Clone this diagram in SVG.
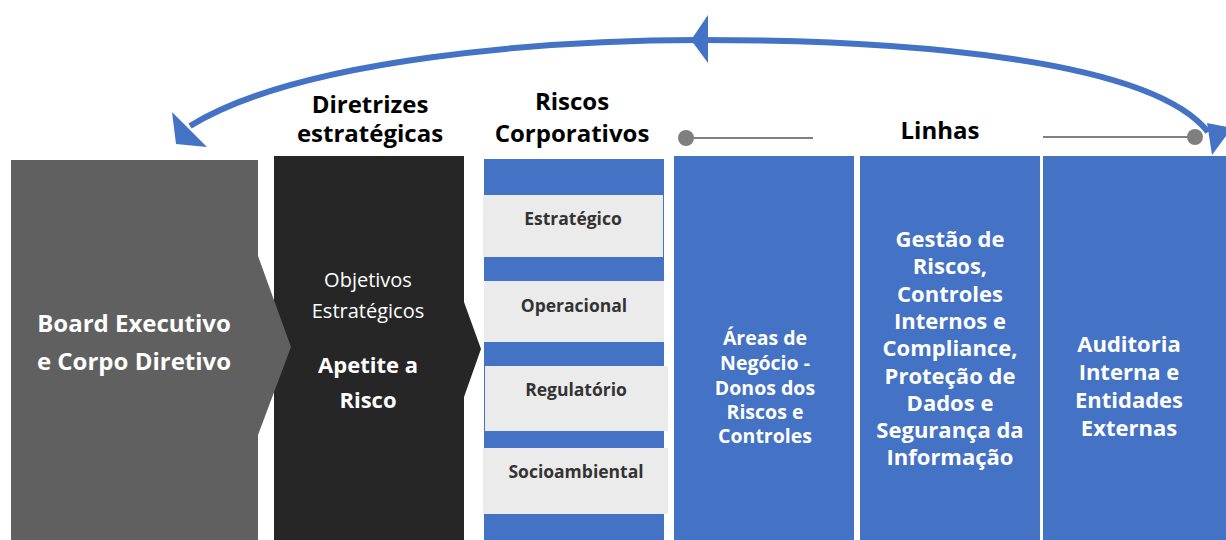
<svg xmlns="http://www.w3.org/2000/svg" width="1226" height="540" viewBox="0 0 1226 540">
<style>
.hdr{font-family:"Open Sans","Noto Sans","Liberation Sans",sans-serif;font-weight:700;font-size:24px;fill:#000;text-anchor:middle}
.wb{font-family:"Open Sans","Noto Sans","Liberation Sans",sans-serif;font-weight:700;fill:#fff;text-anchor:middle}
.wr{font-family:"Open Sans","Noto Sans","Liberation Sans",sans-serif;font-weight:400;fill:#fff;text-anchor:middle}
.rk{font-family:"Open Sans","Noto Sans","Liberation Sans",sans-serif;font-weight:700;font-size:17.5px;fill:#333;text-anchor:middle}
.blue{fill:#4472C4}
.gbox{fill:#EBEBEB}
.tl{stroke:#808080;stroke-width:2;fill:none}
.dot{fill:#7F7F7F}
</style>
<rect width="1226" height="540" fill="#fff"/>

<g id="headers">
<text class="hdr" x="370" y="113">Diretrizes</text>
<text class="hdr" x="370" y="142">estratégicas</text>
<text class="hdr" x="572" y="110">Riscos</text>
<text class="hdr" x="572" y="142">Corporativos</text>
<text class="hdr" x="940" y="139">Linhas</text>
</g>

<g id="diretrizes">
<polygon points="274,156 464,156 464,302 481,349 464,397 464,540 274,540" fill="#262626"/>
<text class="wr" x="368" y="287" font-size="20">Objetivos</text>
<text class="wr" x="368" y="318" font-size="20">Estratégicos</text>
<text class="wb" x="368" y="373" font-size="22">Apetite a</text>
<text class="wb" x="368" y="408" font-size="22">Risco</text>
</g>

<g id="board">
<polygon points="11,160 258,160 258,256 291,347 258,435 258,540 11,540" fill="#606060"/>
<text class="wb" x="134" y="332" font-size="24">Board Executivo</text>
<text class="wb" x="134" y="370" font-size="24">e Corpo Diretivo</text>
</g>

<g id="riscos">
<rect class="blue" x="484" y="159" width="180" height="381"/>
<rect class="gbox" x="483" y="195" width="180" height="62"/>
<rect class="gbox" x="484" y="281" width="180" height="61"/>
<rect class="gbox" x="485" y="366" width="183" height="65"/>
<rect class="gbox" x="483" y="448" width="185" height="66"/>
<text class="rk" x="573" y="225">Estratégico</text>
<text class="rk" x="574" y="312">Operacional</text>
<text class="rk" x="576" y="396">Regulatório</text>
<text class="rk" x="576" y="478">Socioambiental</text>
</g>

<g id="linha1">
<rect class="blue" x="674" y="156" width="180" height="384"/>
<text class="wb" font-size="19.5" x="765" y="345">Áreas de</text>
<text class="wb" font-size="19.5" x="765" y="370">Negócio -</text>
<text class="wb" font-size="19.5" x="765" y="395">Donos dos</text>
<text class="wb" font-size="19.5" x="765" y="419">Riscos e</text>
<text class="wb" font-size="19.5" x="765" y="443">Controles</text>
</g>

<g id="linha2">
<rect class="blue" x="860" y="156" width="180" height="384"/>
<text class="wb" font-size="22" x="950" y="247">Gestão de</text>
<text class="wb" font-size="22" x="950" y="274">Riscos,</text>
<text class="wb" font-size="22" x="950" y="302">Controles</text>
<text class="wb" font-size="22" x="950" y="329">Internos e</text>
<text class="wb" font-size="22" x="950" y="356">Compliance,</text>
<text class="wb" font-size="22" x="950" y="384">Proteção de</text>
<text class="wb" font-size="22" x="950" y="411">Dados e</text>
<text class="wb" font-size="22" x="950" y="438">Segurança da</text>
<text class="wb" font-size="22" x="950" y="465">Informação</text>
</g>

<g id="linha3">
<rect class="blue" x="1043" y="156" width="183" height="384"/>
<text class="wb" font-size="22" x="1129" y="352">Auditoria</text>
<text class="wb" font-size="22" x="1129" y="380">Interna e</text>
<text class="wb" font-size="22" x="1129" y="408">Entidades</text>
<text class="wb" font-size="22" x="1129" y="436">Externas</text>
</g>

<g id="connectors">
<line class="tl" x1="686" y1="138" x2="813" y2="138"/>
<circle class="dot" cx="686" cy="138" r="8"/>
<line class="tl" x1="1043" y1="137" x2="1195" y2="137"/>
<circle class="dot" cx="1195" cy="137" r="8"/>
<path d="M 190,126 C 300,58 550,40 700,40 C 900,40 1150,58 1208,132" fill="none" stroke="#4472C4" stroke-width="6"/>
<polygon class="blue" points="172,112 176,144 207,147"/>
<polygon class="blue" points="691,40 708,15 708,63"/>
<polygon class="blue" points="1207,123 1232,128 1212,155"/>
</g>
</svg>
